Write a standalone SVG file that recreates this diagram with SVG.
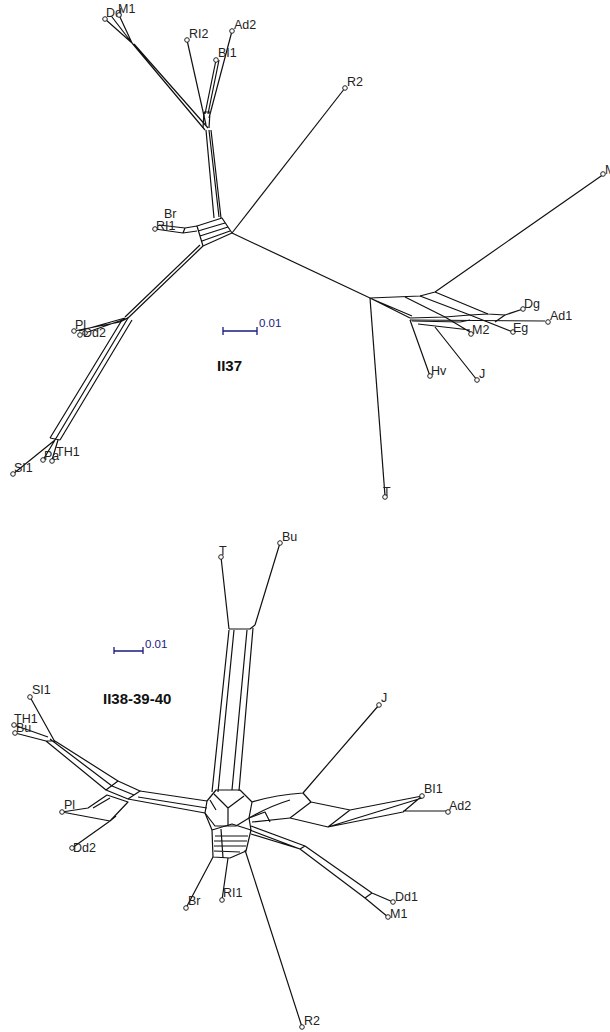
<svg xmlns="http://www.w3.org/2000/svg" width="610" height="1032" viewBox="0 0 610 1032">
<style>
.e{stroke:#111;stroke-width:1.2;fill:none;stroke-linejoin:round}
.n circle{fill:#fff;stroke:#222;stroke-width:1}
.n text{font-family:"Liberation Sans",Arial,sans-serif;font-size:12.5px;fill:#222}
.sb{stroke:#1a1a80;stroke-width:1.3;fill:none}
.sbt{font-family:"Liberation Sans",Arial,sans-serif;font-size:11.5px;fill:#1a1a80}
.ttl{font-family:"Liberation Sans",Arial,sans-serif;font-size:15px;font-weight:bold;fill:#111}
</style>
<rect width="610" height="1032" fill="#fff"/>
<g id="connectors">
<path class="e" d="M132,43 L105,19 M132,43 L112,17 M132,43 L119,15"/>
<path class="e" d="M205,130 L132,43 M208,128 L134,44"/>
<path class="e" d="M187,40 L206,125"/>
<path class="e" d="M232,31 L209,118 M216,60 L205,114 M219,60 L208,114 M204,112 L210,112 M204,112 L203,128 M210,112 L209,128"/>
<path class="e" d="M206,130 L214,218 M209,130 L219,217 M211,130 L221,218"/>
<path class="e" d="M197,226 L222,218 L232,233 L203,246 Z M198,231 L225,223 M200,236 L228,227 M202,241 L230,231"/>
<path class="e" d="M155,229 L183,233 L197,231 M159,225 L185,228 L197,226 M183,233 L185,228"/>
<path class="e" d="M203,246 L128,318 M200,245 L125,317"/>
<path class="e" d="M128,318 L85,333 M125,318 L79,331 M120,322 L74,331 M120,322 L128,318"/>
<path class="e" d="M128,318 L55,440 M122,320 L50,438 M132,320 L60,440 M50,438 L60,440"/>
<path class="e" d="M55,440 L13,474 M55,440 L43,460 M58,440 L52,460"/>
<path class="e" d="M232,233 L345,88"/>
<path class="e" d="M232,233 L370,298"/>
<path class="e" d="M370,298 L385,496"/>
<path class="e" d="M370,298 L410,318 M372,299 L412,316 M370,298 L420,296 L435,292 L604,174"/>
<path class="e" d="M405,297 L445,317 M420,296 L470,315 M435,292 L488,314 L505,315 L523,309"/>
<path class="e" d="M410,318 L445,317 L470,315 L488,314 M412,321 L460,322 L470,320"/>
<path class="e" d="M410,320 L545,321"/>
<path class="e" d="M445,317 L470,332 L471,334 M418,324 L470,330"/>
<path class="e" d="M470,315 L513,332 M505,315 L495,322"/>
<path class="e" d="M410,320 L430,376 M435,327 L477,380"/>
<path class="e" d="M221,557 L229,629 M280,543 L255,625 M229,629 L250,629 L255,625"/>
<path class="e" d="M229,630 L212,792 M234,630 L218,792 M247,630 L232,790 M253,628 L239,791"/>
<path class="e" d="M30,697 L55,742 M14,725 L48,737 M15,733 L46,741"/>
<path class="e" d="M55,741 L118,781 M46,741 L106,790 M50,739 L112,786 M46,741 L55,741"/>
<path class="e" d="M106,790 L128,799 L140,791 L118,781 Z M112,786 L134,795"/>
<path class="e" d="M140,791 L207,801 M138,797 L207,808 M128,799 L205,813"/>
<path class="e" d="M62,812 L88,808 L107,795 L128,802 L110,821 Z M93,808 L110,798 M110,821 L72,848 M110,821 L116,816"/>
<path class="e" d="M207,801 L216,790 L240,790 L252,802 L249,818 L236,826 L215,826 L205,813 Z M214,794 L228,808 L244,796 M228,808 L228,826 M210,800 L216,810"/>
<path class="e" d="M212,830 L232,824 L251,830 L246,851 L230,858 L213,857 Z M215,836 L248,836 M214,841 L247,841 M214,846 L246,846 M214,851 L240,852 M221,829 L223,858 M205,813 L212,830 M249,818 L251,830"/>
<path class="e" d="M186,908 L213,857 M222,900 L228,858 M245,850 L302,1027"/>
<path class="e" d="M252,802 Q275,795 303,793 L379,705 M249,818 Q270,806 290,800"/>
<path class="e" d="M303,793 L311,802 L290,818 M311,802 L350,810 L422,796 M290,818 L328,827 L403,812 L422,796 M350,810 L328,827 M328,827 L422,798 M403,811 L448,811"/>
<path class="e" d="M251,826 L305,846 L372,893 L393,902 M250,830 L300,849 L365,898 L388,917 M251,834 L300,849 M252,822 L290,818 M249,818 L265,812 L270,822 M305,846 L300,849 M372,893 L365,898"/>
</g>
<g id="scale-top"><path class="sb" d="M223,327 L223,335 M223,331 L257,331 M257,327 L257,335"/><text class="sbt" x="259" y="327">0.01</text></g>
<g id="title-top"><text class="ttl" x="217" y="371">II37</text></g>
<g id="scale-bottom"><path class="sb" d="M114,647 L114,654 M114,651 L143,651 M143,647 L143,654"/><text class="sbt" x="145" y="648">0.01</text></g>
<g id="title-bottom"><text class="ttl" x="103" y="704">II38-39-40</text></g>
<g id="t-Dd" class="n"><circle cx="105" cy="19" r="2.3"/><text x="106" y="17">Dd</text></g>
<g id="t-M1" class="n"><circle cx="119" cy="15" r="2.3"/><text x="118" y="13">M1</text></g>
<g id="t-RI2" class="n"><circle cx="187" cy="40" r="2.3"/><text x="189" y="38">RI2</text></g>
<g id="t-Ad2" class="n"><circle cx="232" cy="31" r="2.3"/><text x="234" y="29">Ad2</text></g>
<g id="t-BI1" class="n"><circle cx="216" cy="60" r="2.3"/><text x="218" y="57">BI1</text></g>
<g id="t-R2" class="n"><circle cx="345" cy="88" r="2.3"/><text x="347" y="86">R2</text></g>
<g id="t-Br" class="n"><text x="164" y="218">Br</text></g>
<g id="t-RI1" class="n"><circle cx="155" cy="229" r="2.3"/><text x="156" y="230">RI1</text></g>
<g id="t-M" class="n"><circle cx="603" cy="174" r="2.3"/><text x="605" y="174">M</text></g>
<g id="t-Pl" class="n"><circle cx="74" cy="331" r="2.3"/><text x="75" y="329">Pl</text></g>
<g id="t-Dd2" class="n"><circle cx="80" cy="335" r="2.3"/><circle cx="85" cy="333" r="2.3"/><text x="83" y="337">Dd2</text></g>
<g id="t-Dg" class="n"><circle cx="523" cy="309" r="2.3"/><text x="524" y="308">Dg</text></g>
<g id="t-Ad1" class="n"><circle cx="548" cy="322" r="2.3"/><text x="550" y="320">Ad1</text></g>
<g id="t-Eg" class="n"><circle cx="513" cy="332" r="2.3"/><text x="513" y="332">Eg</text></g>
<g id="t-M2" class="n"><circle cx="471" cy="334" r="2.3"/><text x="472" y="334">M2</text></g>
<g id="t-Hv" class="n"><circle cx="430" cy="376" r="2.3"/><text x="431" y="375">Hv</text></g>
<g id="t-J" class="n"><circle cx="477" cy="380" r="2.3"/><text x="479" y="378">J</text></g>
<g id="t-T" class="n"><circle cx="385" cy="497" r="2.3"/><text x="383" y="496">T</text></g>
<g id="t-SI1" class="n"><circle cx="13" cy="474" r="2.3"/><text x="14" y="472">SI1</text></g>
<g id="t-Pa" class="n"><circle cx="43" cy="460" r="2.3"/><text x="44" y="460">Pa</text></g>
<g id="t-TH1" class="n"><circle cx="52" cy="461" r="2.3"/><text x="56" y="456">TH1</text></g>
<g id="b-T" class="n"><circle cx="221" cy="557" r="2.3"/><text x="219" y="555">T</text></g>
<g id="b-Bu" class="n"><circle cx="280" cy="543" r="2.3"/><text x="282" y="541">Bu</text></g>
<g id="b-SI1" class="n"><circle cx="30" cy="697" r="2.3"/><text x="32" y="694">SI1</text></g>
<g id="b-TH1" class="n"><circle cx="14" cy="725" r="2.3"/><text x="14" y="723">TH1</text></g>
<g id="b-Bu2" class="n"><circle cx="15" cy="733" r="2.3"/><text x="16" y="732">Bu</text></g>
<g id="b-J" class="n"><circle cx="379" cy="705" r="2.3"/><text x="381" y="702">J</text></g>
<g id="b-Pl" class="n"><circle cx="62" cy="812" r="2.3"/><text x="64" y="809">Pl</text></g>
<g id="b-BI1" class="n"><circle cx="422" cy="796" r="2.3"/><text x="424" y="793">BI1</text></g>
<g id="b-Ad2" class="n"><circle cx="448" cy="812" r="2.3"/><text x="449" y="810">Ad2</text></g>
<g id="b-Dd2" class="n"><circle cx="72" cy="848" r="2.3"/><text x="73" y="852">Dd2</text></g>
<g id="b-Dd1" class="n"><circle cx="393" cy="902" r="2.3"/><text x="395" y="901">Dd1</text></g>
<g id="b-M1" class="n"><circle cx="388" cy="917" r="2.3"/><text x="390" y="918">M1</text></g>
<g id="b-Br" class="n"><circle cx="186" cy="908" r="2.3"/><text x="188" y="905">Br</text></g>
<g id="b-RI1" class="n"><circle cx="222" cy="900" r="2.3"/><text x="223" y="897">RI1</text></g>
<g id="b-R2" class="n"><circle cx="302" cy="1027" r="2.3"/><text x="304" y="1025">R2</text></g>
</svg>
